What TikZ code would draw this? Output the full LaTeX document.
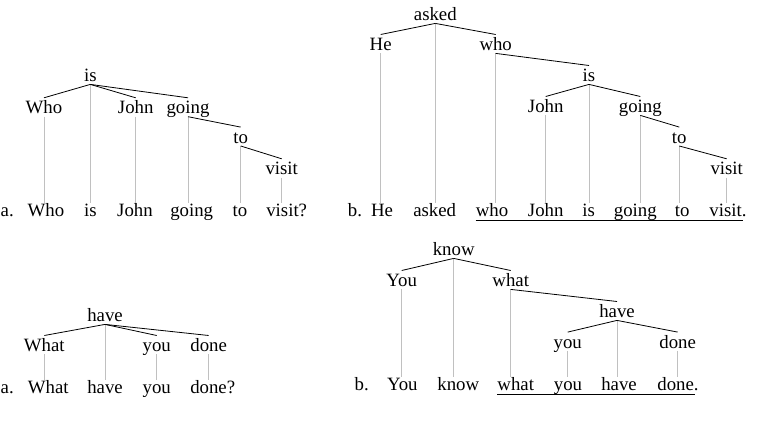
\documentclass[tikz,border=0pt]{standalone}
\usepackage{fontspec}
\setmainfont{Liberation Serif}
\definecolor{projgray}{RGB}{192,192,192}
\begin{document}
\begin{tikzpicture}[x=1bp,y=-1bp,
  font=\fontsize{18.8bp}{22bp}\selectfont,
  w/.style={inner xsep=0pt, inner ysep=2.5bp, text height=13.5bp, text depth=0bp, anchor=base},
  bw/.style={inner xsep=0pt, inner ysep=2bp, text height=11.6bp, text depth=0.5bp, anchor=base},
  lab/.style={bw, anchor=base west},
  dep/.style={draw=black, line width=0.8bp},
  proj/.style={draw=projgray, line width=0.9bp},
  ul/.style={draw=black, line width=1bp}]
\useasboundingbox (0,0) rectangle (773,433);

% ---------- tree a (top left) ----------
\node[w] (a_is)    at (90.3,81.7) {is};
\node[w] (a_who)   at (44,114) {Who};
\node[w] (a_john)  at (135.7,114) {John};
\node[w] (a_going) at (188,114) {going};
\node[w] (a_to)    at (240.7,143.3) {to};
\node[w] (a_visit) at (281.7,175) {visit};
\node[lab] (a_lab)  at (0.5,216.7) {a.};
\node[bw] (A_who)   at (46,216.7) {Who};
\node[bw] (A_is)    at (90.3,216.7) {is};
\node[bw] (A_john)  at (135,216.7) {John};
\node[bw] (A_going) at (191.7,216.7) {going};
\node[bw] (A_to)    at (240,216.7) {to};
\node[bw] (A_visit) at (286.7,216.7) {visit?};
\foreach \p/\q in {a_who/A_who,a_is/A_is,a_john/A_john,a_going/A_going,a_to/A_to,a_visit/A_visit}
  \draw[proj] (\p.south) -- (\p.south |- \q.north);
\draw[dep] (a_is.south) -- (a_who.north);
\draw[dep] (a_is.south) -- (a_john.north);
\draw[dep] (a_is.south) -- (a_going.north);
\draw[dep] (a_going.south) -- (a_to.north);
\draw[dep] (a_to.south) -- (a_visit.north);

% ---------- tree b (top right) ----------
\node[w] (b_asked) at (435.3,20.7) {asked};
\node[w] (b_he)    at (380.7,50.7) {He};
\node[w] (b_who)   at (495.7,50.7) {who};
\node[w] (b_is)    at (589,81.7) {is};
\node[w] (b_john)  at (545.7,112.7) {John};
\node[w] (b_going) at (640.3,112.7) {going};
\node[w] (b_to)    at (679.3,143.3) {to};
\node[w] (b_visit) at (726.7,175) {visit};
\node[bw] (b_lab)   at (355,216.7) {b.};
\node[bw] (B_he)    at (382,216.7) {He};
\node[bw] (B_asked) at (434.7,216.7) {asked};
\node[bw] (B_who)   at (492,216.7) {who};
\node[bw] (B_john)  at (545.7,216.7) {John};
\node[bw] (B_is)    at (588.7,216.7) {is};
\node[bw] (B_going) at (635.3,216.7) {going};
\node[bw] (B_to)    at (682.3,216.7) {to};
\node[bw] (B_visit) at (728,216.7) {visit.};
\foreach \p/\q in {b_he/B_he,b_asked/B_asked,b_who/B_who,b_john/B_john,b_is/B_is,b_going/B_going,b_to/B_to,b_visit/B_visit}
  \draw[proj] (\p.south) -- (\p.south |- \q.north);
\draw[dep] (b_asked.south) -- (b_he.north);
\draw[dep] (b_asked.south) -- (b_who.north);
\draw[dep] (b_who.south) -- (b_is.north);
\draw[dep] (b_is.south) -- (b_john.north);
\draw[dep] (b_is.south) -- (b_going.north);
\draw[dep] (b_going.south) -- (b_to.north);
\draw[dep] (b_to.south) -- (b_visit.north);
\draw[ul] ([yshift=-1bp]B_who.south west) -- ([yshift=-1bp,xshift=-4bp]B_visit.south east);

% ---------- tree c (bottom left) ----------
\node[w] (c_have) at (105,321.7) {have};
\node[w] (c_what) at (44.3,351.7) {What};
\node[w] (c_you)  at (156.7,351.7) {you};
\node[w] (c_done) at (208.7,351.7) {done};
\node[lab] (c_lab) at (0.5,393.3) {a.};
\node[bw] (C_what) at (48.3,393.3) {What};
\node[bw] (C_have) at (105,393.3) {have};
\node[bw] (C_you)  at (156.7,393.3) {you};
\node[bw] (C_done) at (212.7,393.3) {done?};
\foreach \p/\q in {c_what/C_what,c_have/C_have,c_you/C_you,c_done/C_done}
  \draw[proj] (\p.south) -- (\p.south |- \q.north);
\draw[dep] (c_have.south) -- (c_what.north);
\draw[dep] (c_have.south) -- (c_you.north);
\draw[dep] (c_have.south) -- (c_done.north);

% ---------- tree d (bottom right) ----------
\node[w] (d_know)  at (453.7,255.7) {know};
\node[w] (d_you)   at (401.7,286.7) {You};
\node[w] (d_what)  at (510.7,286.7) {what};
\node[w] (d_have)  at (617,317.7) {have};
\node[w] (d_youb)  at (567.7,348.3) {you};
\node[w] (d_done)  at (677.7,348.3) {done};
\node[bw] (d_lab)  at (361.7,390.7) {b.};
\node[bw] (D_you)  at (402.3,390.7) {You};
\node[bw] (D_know) at (458.3,390.7) {know};
\node[bw] (D_what) at (515.7,390.7) {what};
\node[bw] (D_youb) at (568,390.7) {you};
\node[bw] (D_have) at (619,390.7) {have};
\node[bw] (D_done) at (678,390.7) {done.};
\foreach \p/\q in {d_you/D_you,d_know/D_know,d_what/D_what,d_youb/D_youb,d_have/D_have,d_done/D_done}
  \draw[proj] (\p.south) -- (\p.south |- \q.north);
\draw[dep] (d_know.south) -- (d_you.north);
\draw[dep] (d_know.south) -- (d_what.north);
\draw[dep] (d_what.south) -- (d_have.north);
\draw[dep] (d_have.south) -- (d_youb.north);
\draw[dep] (d_have.south) -- (d_done.north);
\draw[ul] ([yshift=-1bp]D_what.south west) -- ([yshift=-1bp,xshift=-4bp]D_done.south east);
\end{tikzpicture}
\end{document}
